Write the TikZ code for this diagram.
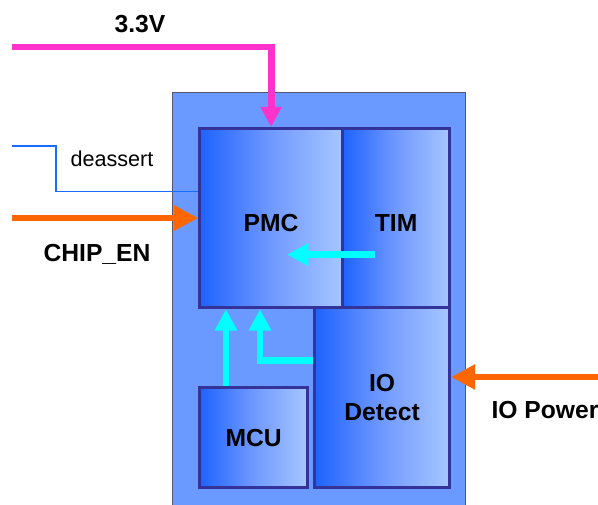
\documentclass[tikz,border=0pt]{standalone}
\usepackage{fontspec}
\setmainfont{Liberation Sans}
\usetikzlibrary{arrows.meta,calc}
\definecolor{chipfill}{HTML}{6A9AFF}
\definecolor{chipline}{HTML}{555577}
\definecolor{boxline}{HTML}{333399}
\definecolor{gradL}{HTML}{1E62FF}
\definecolor{gradM}{HTML}{7099FF}
\definecolor{gradR}{HTML}{A6C6FF}
\definecolor{vpink}{HTML}{FF33CC}
\definecolor{vorange}{HTML}{FF6600}
\definecolor{vcyan}{HTML}{00FFFF}
\definecolor{vblue}{HTML}{1A6BFF}
\tikzset{
  blk/.style={draw=boxline, line width=2.4pt, anchor=north west, inner sep=0pt,
    left color=gradL, right color=gradR, middle color=gradM,
    font=\bfseries\fontsize{18.5}{22}\selectfont, align=center},
  lbl/.style={font=\bfseries\fontsize{18.5}{22}\selectfont, inner sep=0pt},
  pinkarrow/.style={draw=vpink, line width=5.2pt, -{Triangle[length=15pt,width=15pt]}},
  orangearrow/.style={draw=vorange, line width=5.2pt, -{Triangle[length=18pt,width=18pt]}},
  cyanarrow/.style={draw=vcyan, line width=5.2pt, -{Triangle[length=16pt,width=16pt]}},
  deline/.style={draw=vblue, line width=1.1pt},
}
\begin{document}
\begin{tikzpicture}[x=0.75pt,y=-0.75pt]
\useasboundingbox (0,0) rectangle (598,505);
\clip (0,0) rectangle (598,505);
% outer chip
\node[draw=chipline, line width=0.8pt, fill=chipfill, anchor=north west, inner sep=0pt,
  minimum width=293*0.75pt, minimum height=430*0.75pt] (chip) at (172,92) {};
% blocks
\node[blk, minimum width=143*0.75pt, minimum height=179*0.75pt] (PMC) at (198,127) {};
\node[lbl] at ($(PMC.center)+(0,4.5)$) {PMC};
\node[blk, minimum width=107*0.75pt, minimum height=179*0.75pt] (TIM) at (341,127) {};
\node[lbl] at ($(TIM.center)+(0,4.5)$) {TIM};
\node[blk, minimum width=135*0.75pt, minimum height=180*0.75pt] (IO) at (313,306) {IO\\Detect};
\node[blk, minimum width=108*0.75pt, minimum height=100*0.75pt] (MCU) at (198,386) {MCU};
% external coordinates
\coordinate (v33) at (12,47);
\coordinate (da) at (12,146);
\coordinate (ce) at (12,218);
\coordinate (iop) at (600,377);
% connectors
\draw[pinkarrow] (v33) -| (PMC.north);
\draw[deline] (da) -- ++(44,0) |- ($(PMC.west)+(0,-26.5)$);
\draw[orangearrow] (ce) -- (ce -| PMC.west);
\draw[orangearrow] (iop) -- (iop -| IO.east);
\draw[cyanarrow] ($(TIM.west)+(34,36.5)$) -- ($(PMC.west)+(89,36.5)$);
\draw[cyanarrow] ($(MCU.north west)+(28,0)$) -- ($(PMC.south west)+(28,0)$);
\draw[cyanarrow] ($(IO.west)+(0,-37)$) -| ($(PMC.south west)+(62,0)$);
% labels
\node[lbl] (l33) at (140,24) {3.3V};
\node[inner sep=0pt, font=\fontsize{16.2}{19}\selectfont] (lda) at (112,159) {deassert};
\node[lbl] (lce) at (97,254) {CHIP\_EN};
\node[lbl] (liop) at (545,410) {IO Power};
\end{tikzpicture}
\end{document}
